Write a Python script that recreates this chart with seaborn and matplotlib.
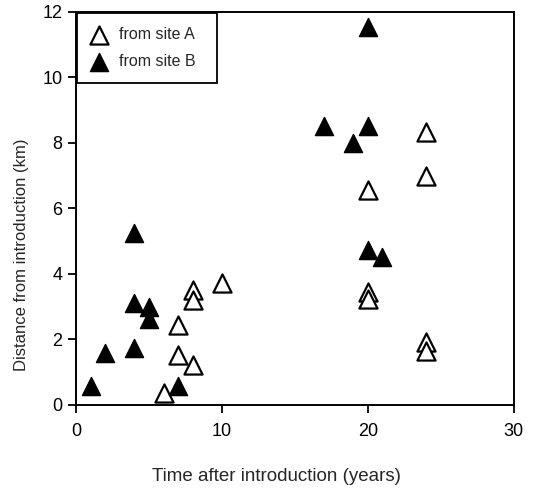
import pandas as pd
import matplotlib.pyplot as plt
import seaborn as sns

# site A (open triangles)
years_a = [6, 7, 7, 8, 8, 8, 10, 20, 20, 20, 24, 24, 24, 24]
dist_a = [0.36, 2.45, 1.52, 1.23, 3.5, 3.2, 3.72, 6.55, 3.45, 3.22, 8.32, 7.0, 1.92, 1.66]

# site B (filled triangles)
years_b = [1, 2, 4, 4, 4, 5, 5, 7, 17, 19, 20, 20, 20, 21]
dist_b = [0.58, 1.58, 5.24, 3.1, 1.75, 3.0, 2.62, 0.58, 8.52, 7.98, 8.52, 11.55, 4.72, 4.52]

x_ticks = [0, 10, 20, 30]
y_ticks = [0, 2, 4, 6, 8, 10, 12]

df = pd.concat([
    pd.DataFrame({'time': years_a, 'dist': dist_a, 'site': 'from site A'}),
    pd.DataFrame({'time': years_b, 'dist': dist_b, 'site': 'from site B'}),
], ignore_index=True)

sns.set_theme(style='ticks')
plt.rcParams['font.family'] = ['Liberation Sans', 'DejaVu Sans']

fig = plt.figure(figsize=(5.44, 4.92), dpi=100)
ax = fig.add_axes([0.140, 0.177, 0.804, 0.799])

sns.scatterplot(data=df[df['site'] == 'from site A'], x='time', y='dist',
                marker='^', s=170, facecolor='white', edgecolor='black',
                linewidth=1.6, label='from site A', ax=ax, zorder=3)
sns.scatterplot(data=df[df['site'] == 'from site B'], x='time', y='dist',
                marker='^', s=170, color='black', edgecolor='black',
                linewidth=1.0, label='from site B', ax=ax, zorder=3)

ax.set_xlim(0, 30)
ax.set_ylim(0, 12)
ax.set_xticks(x_ticks)
ax.set_yticks(y_ticks)
ax.tick_params(direction='out', length=6, width=1.3, colors='black',
               labelsize=13, pad=4)
ax.tick_params(axis='x', pad=7)
for sp in ax.spines.values():
    sp.set_visible(True)
    sp.set_linewidth(1.4)
    sp.set_color('black')

ax.set_xlabel('Time after introduction (years)', fontsize=13.5)
ax.set_ylabel('Distance from introduction (km)', fontsize=12)
# labels sit off-centre in the original
ax.xaxis.set_label_coords(0.457, -0.16)
ax.yaxis.set_label_coords(-0.108, 0.382)

leg = ax.legend(loc='upper left', bbox_to_anchor=(0.002, 0.998, 0.32, 0),
                mode='expand', fontsize=11.5, frameon=True, fancybox=False,
                edgecolor='black', borderaxespad=0, markerscale=1.0,
                handletextpad=0.7, borderpad=0.9, labelspacing=0.75,
                handlelength=1.0)
leg.get_frame().set_linewidth(1.3)
leg.get_frame().set_alpha(1)

plt.savefig('out.png', dpi=100)
